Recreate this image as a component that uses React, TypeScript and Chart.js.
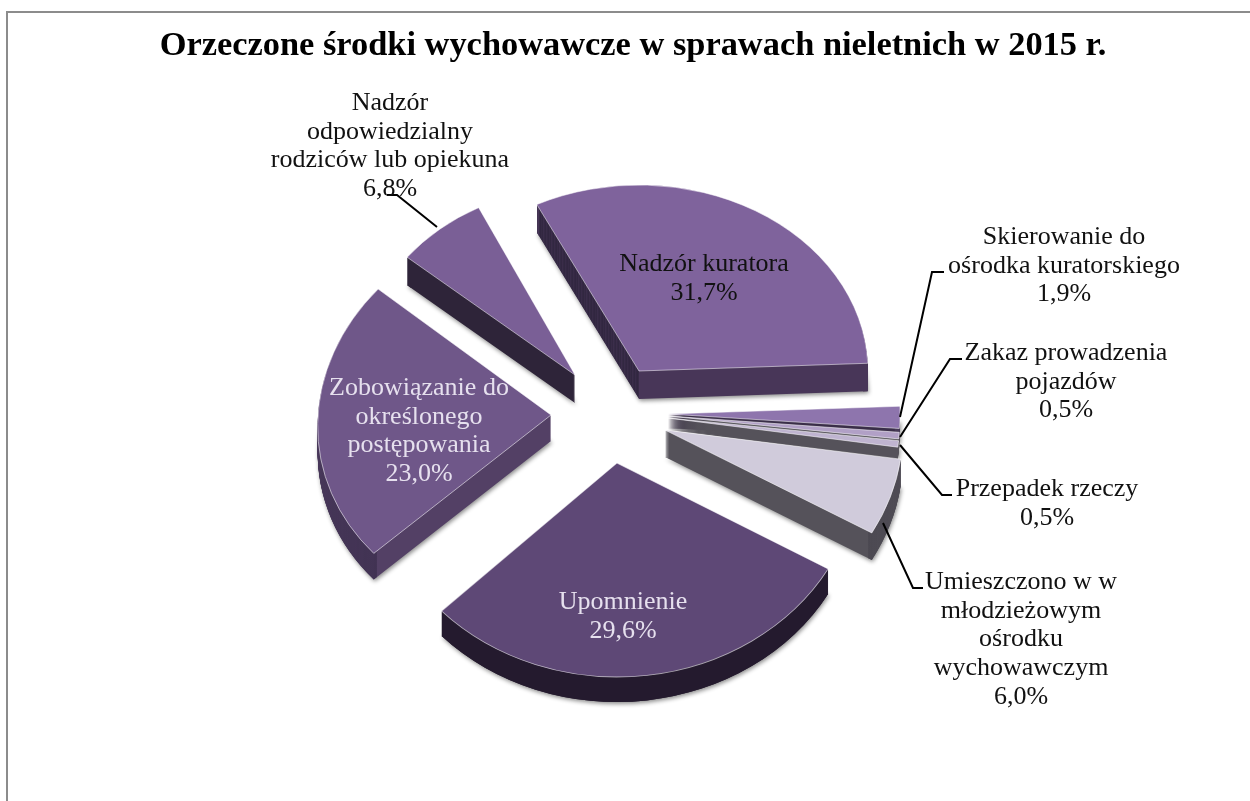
import { useEffect, useRef } from "react";
import { Chart, registerables } from "chart.js";

Chart.register(...registerables);

const chartTitle = "Orzeczone środki wychowawcze w sprawach nieletnich w 2015 r.";
const categories = [
  "Nadzór kuratora",
  "Skierowanie do ośrodka kuratorskiego",
  "Zakaz prowadzenia pojazdów",
  "Przepadek rzeczy",
  "Umieszczono w w młodzieżowym ośrodku wychowawczym",
  "Upomnienie",
  "Zobowiązanie do określonego postępowania",
  "Nadzór odpowiedzialny rodziców lub opiekuna",
];
const shares = [31.7, 1.9, 0.5, 0.5, 6.0, 29.6, 23.0, 6.8];
const labelBreaks = [
  ["Nadzór kuratora"],
  ["Skierowanie do", "ośrodka kuratorskiego"],
  ["Zakaz prowadzenia", "pojazdów"],
  ["Przepadek rzeczy"],
  ["Umieszczono w w", "młodzieżowym", "ośrodku", "wychowawczym"],
  ["Upomnienie"],
  ["Zobowiązanie do", "określonego", "postępowania"],
  ["Nadzór", "odpowiedzialny", "rodziców lub opiekuna"],
];
const topColors = ["#7f639c", "#8e75ad", "#b1a0c6", "#bfb4d0", "#d0cbdb", "#5e4876", "#6f5789", "#7a5f96"];
const rimColors = ["#483658", "#4a3c5a", "#55525a", "#55525a", "#4a4750", "#241a2e", "#3e3050", "#2e2439"];
const startCutColors = ["#30263f", "#3a2e48", "#55525a", "#55525a", "#55525a", "#241a2e", "#534065", "#2e2439"];
const endCutColors = ["#483658", "#3a2e48", "#55525a", "#55525a", "#55525a", "#241a2e", "#534065", "#2e2439"];

// Presentation only: how each slice is pulled out and foreshortened (perspective view).
const views = [
  { dx: 639, dy: 371, rx: 229, ry: 186, lean: 0, depth: 28 },
  { dx: 668, dy: 414, rx: 232, ry: 186, lean: 0, depth: 14 },
  { dx: 668, dy: 416, rx: 232, ry: 210, lean: 0, depth: 14 },
  { dx: 668, dy: 418, rx: 232, ry: 208, lean: 0, depth: 12 },
  { dx: 665, dy: 430, rx: 238, ry: 208, lean: 0, depth: 27 },
  { dx: 617, dy: 463, rx: 243, ry: 214, lean: 0, depth: 25 },
  { dx: 551, dy: 415, rx: 233, ry: 200, lean: -0.065, depth: 26 },
  { dx: 575, dy: 375, rx: 216, ry: 187, lean: 0, depth: 28 },
];
const paintOrder = [7, 6, 0, 1, 2, 3, 4, 5];
const BASE_RADIUS = 240;
const LINE = 28.7;
const FONT = '"Liberation Serif"';
const LABEL_SIZE = 26;
const labelPlaces = [
  { x: 704, y: 271, color: "#111111" },
  { x: 1064, y: 244, color: "#111111" },
  { x: 1066, y: 360, color: "#111111" },
  { x: 1047, y: 496, color: "#111111" },
  { x: 1021, y: 589, color: "#111111" },
  { x: 623, y: 609, color: "#e6e0ee" },
  { x: 419, y: 395, color: "#e6e0ee" },
  { x: 390, y: 110, color: "#111111" },
];
const leaders = [
  [[387, 195], [397, 195], [437, 227]],
  [[900, 417], [932, 272], [944, 272]],
  [[900, 437], [950, 359], [962, 359]],
  [[900, 445], [942, 495], [952, 495]],
  [[883, 523], [913, 588], [923, 588]],
];

const piePlugin = {
  id: "perspectivePie",
  beforeDraw(chart: any) {
    const ctx = chart.ctx;
    ctx.save();
    ctx.strokeStyle = "#8c8c8c";
    ctx.lineWidth = 2;
    ctx.beginPath();
    ctx.moveTo(7, 801);
    ctx.lineTo(7, 12);
    ctx.lineTo(1250, 12);
    ctx.stroke();
    ctx.restore();
  },
  beforeDatasetDraw(chart: any, args: any) {
    const ctx: CanvasRenderingContext2D = chart.ctx;
    const arcs = args.meta.data;
    const place = (i: number, drop: number) => {
      const v = views[i];
      const arc = arcs[i];
      ctx.translate(v.dx, v.dy + drop);
      const sx = v.rx / BASE_RADIUS;
      const sy = v.ry / BASE_RADIUS;
      ctx.transform(sx, 0, v.lean * sy, sy, 0, 0);
      ctx.translate(-arc.x, -arc.y);
    };
    paintOrder.forEach((i) => {
      const arc = arcs[i];
      const original = arc.options;
      const edge = (BASE_RADIUS - 5) / BASE_RADIUS;
      const span = (arc.endAngle - arc.startAngle) / (2 * Math.PI);
      const cutFill = (ctx as any).createConicGradient(arc.startAngle, arc.x, arc.y);
      cutFill.addColorStop(0, startCutColors[i]);
      cutFill.addColorStop(span / 2, startCutColors[i]);
      cutFill.addColorStop(span / 2, endCutColors[i]);
      cutFill.addColorStop(1, endCutColors[i]);
      const rimFill = ctx.createRadialGradient(arc.x, arc.y, 0, arc.x, arc.y, BASE_RADIUS);
      rimFill.addColorStop(edge, "rgba(0,0,0,0)");
      rimFill.addColorStop(edge, rimColors[i]);
      rimFill.addColorStop(1, rimColors[i]);
      const cutOptions = { ...original, backgroundColor: cutFill, borderWidth: 0 };
      const rimOptions = { ...original, backgroundColor: rimFill, borderWidth: 0 };
      for (let d = views[i].depth; d >= 1; d--) {
        ctx.save();
        if (d === views[i].depth) {
          ctx.shadowColor = "rgba(0,0,0,0.45)";
          ctx.shadowBlur = 4;
          ctx.shadowOffsetX = 1;
          ctx.shadowOffsetY = 2;
        }
        place(i, d);
        arc.options = cutOptions;
        arc.draw(ctx);
        ctx.shadowColor = "rgba(0,0,0,0)";
        arc.options = rimOptions;
        arc.draw(ctx);
        ctx.restore();
      }
      arc.options = original;
      ctx.save();
      place(i, 0);
      arc.draw(ctx);
      ctx.restore();
    });
    return false;
  },
  afterDraw(chart: any) {
    const ctx: CanvasRenderingContext2D = chart.ctx;
    ctx.save();
    ctx.strokeStyle = "#000000";
    ctx.lineWidth = 2;
    leaders.forEach((path) => {
      ctx.beginPath();
      path.forEach(([x, y], n) => (n ? ctx.lineTo(x, y) : ctx.moveTo(x, y)));
      ctx.stroke();
    });
    ctx.font = `${LABEL_SIZE}px ${FONT}`;
    ctx.textAlign = "center";
    ctx.textBaseline = "alphabetic";
    labelBreaks.forEach((lines, i) => {
      const p = labelPlaces[i];
      ctx.fillStyle = p.color;
      const all = [...lines, `${shares[i].toFixed(1).replace(".", ",")}%`];
      all.forEach((t, n) => ctx.fillText(t, p.x, p.y + n * LINE));
    });
    ctx.restore();
  },
};

export default function App() {
  const ref = useRef<HTMLCanvasElement | null>(null);
  useEffect(() => {
    document.body.style.margin = "0";
    const chart = new Chart(ref.current as HTMLCanvasElement, {
      type: "pie",
      data: {
        labels: categories,
        datasets: [
          {
            data: shares,
            backgroundColor: topColors,
            borderColor: "rgba(255,255,255,0.6)",
            borderWidth: 1,
          },
        ],
      },
      options: {
        responsive: false,
        animation: false,
        rotation: -26.5,
        radius: BASE_RADIUS,
        layout: { padding: { left: 16 } },
        plugins: {
          legend: { display: false },
          tooltip: { enabled: false },
          title: {
            display: true,
            text: chartTitle,
            color: "#000000",
            font: { family: FONT, size: 34.4, weight: "bold" },
            padding: { top: 25, bottom: 0 },
          },
        },
      },
      plugins: [piePlugin],
    } as any);
    return () => chart.destroy();
  }, []);
  return (
    <canvas
      ref={ref}
      width={1250}
      height={801}
      style={{ display: "block", position: "absolute", left: 0, top: 0 }}
    />
  );
}
